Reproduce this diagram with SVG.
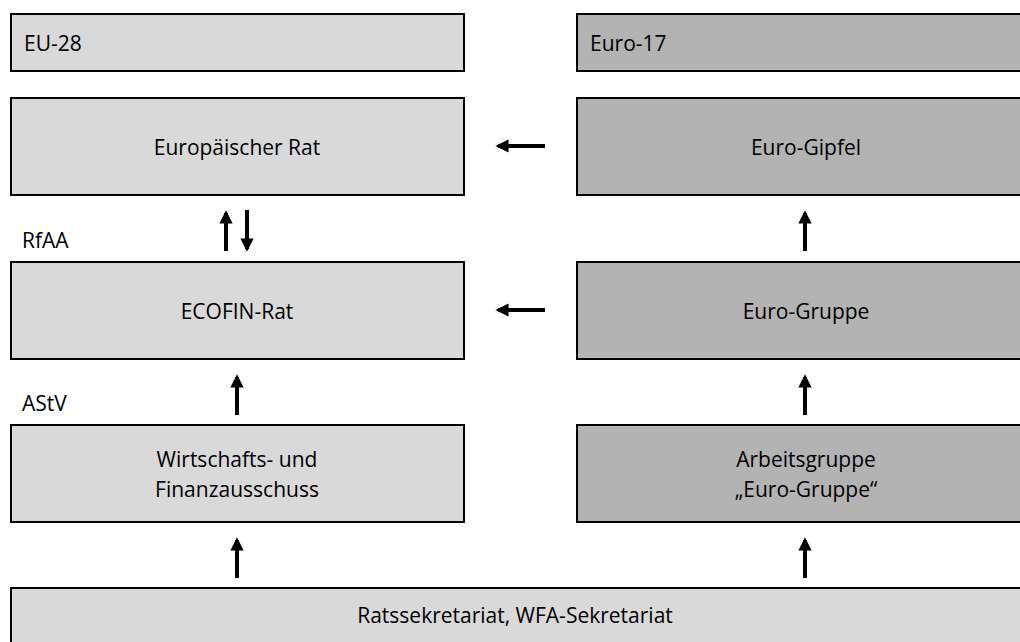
<svg xmlns="http://www.w3.org/2000/svg" width="1020" height="642" viewBox="0 0 1020 642">
<defs>
<marker id="ah" viewBox="0 0 10 10" refX="8" refY="5" markerWidth="3.3" markerHeight="3.3" markerUnits="strokeWidth" orient="auto">
<path d="M0,0 L10,5 L0,10 z" fill="#000"/>
</marker>
</defs>
<style>
.l{fill:#d9d9d9;stroke:#000;stroke-width:2}
.d{fill:#b3b3b3;stroke:#000;stroke-width:2}
text{font-family:"Open Sans",Lato,"Liberation Sans",sans-serif;font-size:21px;fill:#000}
.c{text-anchor:middle}
.a{stroke:#000;stroke-width:4;fill:none;marker-end:url(#ah)}
</style>
<rect width="1020" height="642" fill="#fff"/>
<g id="eu28"><rect class="l" x="11" y="14" width="453" height="57"/><text x="24" y="51">EU-28</text></g>
<g id="euro17"><rect class="d" x="577" y="14" width="450" height="57"/><text x="590" y="51">Euro-17</text></g>
<g id="europaeischer-rat"><rect class="l" x="11" y="98" width="453" height="97"/><text class="c" x="237" y="155">Europäischer Rat</text></g>
<g id="euro-gipfel"><rect class="d" x="577" y="98" width="450" height="97"/><text class="c" x="806" y="155">Euro-Gipfel</text></g>
<g id="ecofin-rat"><rect class="l" x="11" y="262" width="453" height="97"/><text class="c" x="237" y="319">ECOFIN-Rat</text></g>
<g id="euro-gruppe"><rect class="d" x="577" y="262" width="450" height="97"/><text class="c" x="806" y="319">Euro-Gruppe</text></g>
<g id="wfa"><rect class="l" x="11" y="425" width="453" height="97"/><text class="c" x="237" y="467">Wirtschafts- und</text><text class="c" x="237" y="497">Finanzausschuss</text></g>
<g id="ag-euro-gruppe"><rect class="d" x="577" y="425" width="450" height="97"/><text class="c" x="806" y="467">Arbeitsgruppe</text><text class="c" x="806" y="497">„Euro-Gruppe“</text></g>
<g id="ratssekretariat"><rect class="l" x="11" y="588" width="1016" height="60"/><text class="c" x="515" y="623">Ratssekretariat, WFA-Sekretariat</text></g>
<g id="labels"><text x="22" y="248">RfAA</text><text x="22" y="411">AStV</text></g>
<g id="connectors">
<line class="a" x1="545" y1="146" x2="498" y2="146"/>
<line class="a" x1="545" y1="310" x2="498" y2="310"/>
<line class="a" x1="226" y1="251" x2="226" y2="213"/>
<line class="a" x1="247" y1="210" x2="247" y2="249"/>
<line class="a" x1="237" y1="415" x2="237" y2="377"/>
<line class="a" x1="237" y1="578" x2="237" y2="540"/>
<line class="a" x1="805" y1="251" x2="805" y2="213"/>
<line class="a" x1="805" y1="415" x2="805" y2="377"/>
<line class="a" x1="805" y1="578" x2="805" y2="540"/>
</g>
</svg>
